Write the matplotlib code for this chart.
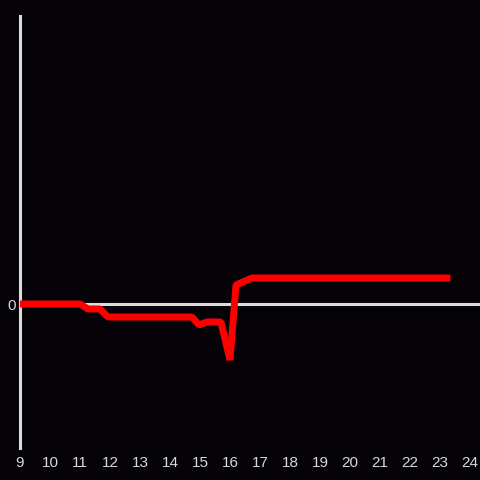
import matplotlib
matplotlib.use("Agg")
import matplotlib.pyplot as plt

# Data (hours vs. value, arbitrary units)
hours = [9.0, 11.0, 11.27, 11.67, 11.93, 14.73, 14.97, 15.23, 15.7, 16.0, 16.2, 16.73, 23.23]
values = [0, 0, -5, -5, -13, -13, -21, -18, -18, -56, 19, 26, 26]
x_ticks = list(range(9, 25))
y_ticks = [0]

bg = "#050307"
axis_col = "#dcdcdc"

fig = plt.figure(figsize=(4.8, 4.8), dpi=100, facecolor=bg)
ax = fig.add_axes([20/480, 32/480, 460/480, 432/480])
ax.set_facecolor(bg)

ax.axhline(0, color=axis_col, lw=2.2, zorder=1)
ax.plot(hours, values, color="#ff0000", lw=5.0, solid_capstyle="projecting",
        solid_joinstyle="bevel", zorder=3)

ax.set_xlim(9, 9 + 460/30)
ax.set_ylim(-144, 288)

for s in ["top", "right", "bottom"]:
    ax.spines[s].set_visible(False)
ax.spines["left"].set_color(axis_col)
ax.spines["left"].set_linewidth(2.2)

ax.set_xticks(x_ticks)
ax.set_xticklabels([str(t) for t in x_ticks])
ax.set_yticks(y_ticks)
ax.set_yticklabels(["0"])
ax.tick_params(axis="both", length=0, colors="#d8d8d8", labelsize=11)
ax.tick_params(axis="x", pad=6)
ax.tick_params(axis="y", pad=3)
for lbl in ax.get_xticklabels() + ax.get_yticklabels():
    lbl.set_fontfamily("Liberation Sans")

fig.savefig("out.png", dpi=100, facecolor=bg)
